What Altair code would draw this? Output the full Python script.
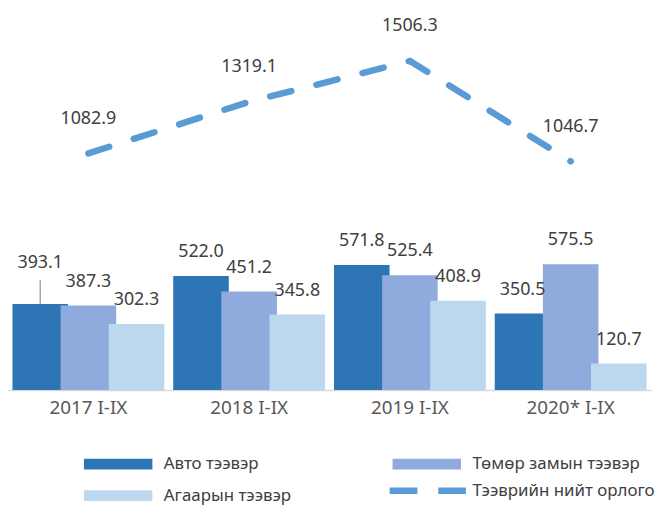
import altair as alt
import pandas as pd

categories = ["2017 I-IX", "2018 I-IX", "2019 I-IX", "2020* I-IX"]
series_names = ["Авто тээвэр", "Төмөр замын тээвэр", "Агаарын тээвэр"]
auto_vals = [393.1, 522.0, 571.8, 350.5]
rail_vals = [387.3, 451.2, 525.4, 575.5]
air_vals = [302.3, 345.8, 408.9, 120.7]
total_name = "Тээврийн нийт орлого"
total_vals = [1082.9, 1319.1, 1506.3, 1046.7]

colors = ["#2E75B6", "#8FAADC", "#BDD7EE"]
line_color = "#5B9BD5"
FONT = "Noto Sans"

rows = []
for name, vals in zip(series_names, [auto_vals, rail_vals, air_vals]):
    for c, v in zip(categories, vals):
        rows.append({"cat": c, "series": name, "value": v, "label": f"{v:.1f}"})
bars_df = pd.DataFrame(rows)
line_df = pd.DataFrame({"cat": categories, "value": total_vals,
                        "series": [total_name] * 4,
                        "label": [f"{v:.1f}" for v in total_vals]})

xscale = alt.Scale(domain=categories, paddingInner=0, paddingOuter=0)
xaxis = alt.Axis(labelAngle=0, labelFontSize=19, labelColor="#595959",
                 labelFont=FONT, ticks=False, domainColor="#D9D9D9",
                 domainWidth=1.5, labelPadding=9)
xenc = alt.X("cat:N", sort=categories, title=None, scale=xscale, axis=xaxis)
yscale = alt.Scale(domain=[0, 1740], nice=False)
yenc = alt.Y("value:Q", scale=yscale, axis=None)
xoff = alt.XOffset("series:N", sort=series_names,
                   scale=alt.Scale(domain=series_names, paddingInner=0, paddingOuter=0.17))

bars = alt.Chart(bars_df).mark_bar(width=56).encode(
    x=xenc, y=yenc, xOffset=xoff,
    fill=alt.Fill("series:N", sort=series_names,
                  scale=alt.Scale(domain=series_names, range=colors),
                  legend=alt.Legend(title=None, orient="none", legendX=102.5, legendY=449,
                                    direction="horizontal",
                                    columns=2, columnPadding=102, rowPadding=14,
                                    symbolType="M-5.75,-0.9H5.75V0.9H-5.75Z", symbolSize=144,
                                    symbolStrokeWidth=0, symbolOffset=0,
                                    labelFont=FONT, labelFontSize=17, labelColor="#404040",
                                    labelOffset=37.5, labelLimit=400, padding=0)),
)

# the first label sits higher, with a leader line down to its bar
first_filter = alt.datum.label == "393.1"

bar_labels = alt.Chart(bars_df).transform_filter(~first_filter).mark_text(
    dy=-24, fontSize=18, font=FONT, color="#404040").encode(
    x=xenc, y=yenc, xOffset=xoff, text="label:N"
)
raised_label = alt.Chart(bars_df).transform_filter(first_filter).mark_text(
    dy=-41, fontSize=18, font=FONT, color="#404040").encode(
    x=xenc, y=yenc, xOffset=xoff, text="label:N"
)
leader = alt.Chart(bars_df).transform_filter(first_filter).mark_rule(
    color="#A6A6A6", strokeWidth=1.5, y2Offset=-24).encode(
    x=xenc, y=yenc, y2="value:Q", xOffset=xoff
)

line = alt.Chart(line_df).mark_line(strokeWidth=6.5, strokeDash=[22, 26], strokeCap="round").encode(
    x=xenc, y=yenc,
    stroke=alt.Stroke("series:N", scale=alt.Scale(domain=[total_name], range=[line_color]),
                      legend=alt.Legend(title=None, orient="none", legendX=413.5, legendY=475,
                                        symbolType="M-6.4,0H6.4", symbolSize=144,
                                        symbolStrokeWidth=6.5, symbolDash=[28, 21],
                                        symbolOffset=0,
                                        labelFont=FONT, labelFontSize=17, labelColor="#404040",
                                        labelOffset=35.5, labelLimit=400, padding=0)),
)

line_labels = alt.Chart(line_df).mark_text(dy=-35, fontSize=18, font=FONT, color="#404040").encode(
    x=xenc, y=yenc, text="label:N"
)

chart = alt.layer(bars, leader, bar_labels, raised_label, line, line_labels).properties(
    width=648, height=383, padding={"left": 0, "right": 0, "top": 0, "bottom": 0}
).resolve_scale(y="shared").configure_view(stroke=None)

chart.save("out.html", embed_options={"renderer": "svg", "actions": False})
